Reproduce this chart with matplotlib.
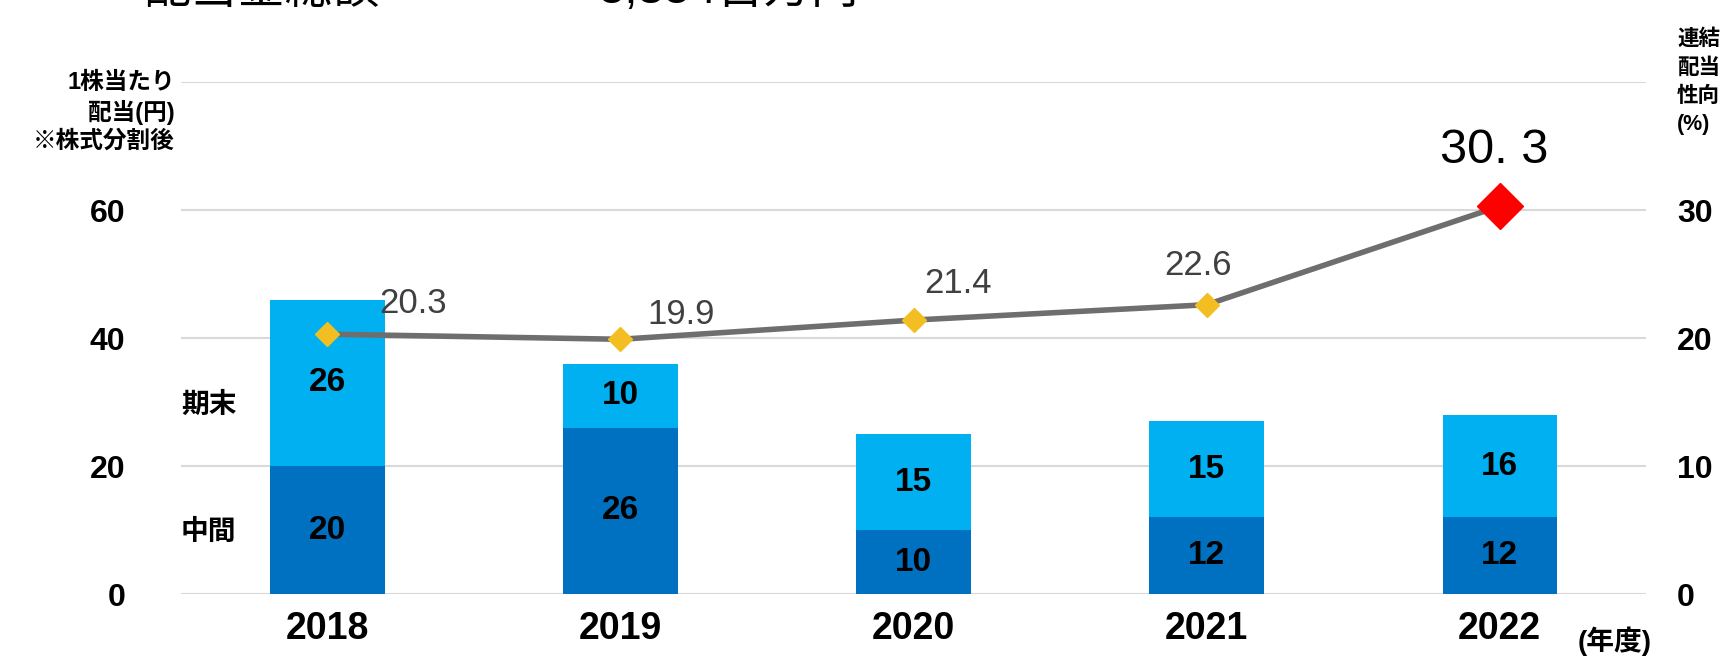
import matplotlib.pyplot as plt
import numpy as np

plt.rcParams['font.family'] = ['Liberation Sans', 'Noto Sans CJK JP', 'DejaVu Sans']

# datos
years = ['2018', '2019', '2020', '2021', '2022']
interim = [20, 26, 10, 12, 12]      # 中間
year_end = [26, 10, 15, 15, 16]     # 期末
payout = [20.3, 19.9, 21.4, 22.6, 30.3]  # 連結配当性向 (%)
payout_labels = ['20.3', '19.9', '21.4', '22.6', '30. 3']

c_dark = '#0070C0'
c_light = '#00B0F0'

fig = plt.figure(figsize=(17.22, 6.56), dpi=100)
ax = fig.add_axes([0.105, 0.0945, 0.851, 0.7805])
x = np.arange(len(years))
w = 0.39

ax.bar(x, interim, w, color=c_dark, zorder=2)
ax.bar(x, year_end, w, bottom=interim, color=c_light, zorder=2)

for i in range(len(years)):
    ax.text(x[i], interim[i] / 2, str(interim[i]), ha='center', va='center',
            fontsize=24, fontweight='bold', color='black', zorder=3)
    ax.text(x[i], interim[i] + year_end[i] / 2, str(year_end[i]), ha='center',
            va='center', fontsize=24, fontweight='bold', color='black', zorder=3)

ax.set_ylim(0, 80)
ax.set_xlim(-0.5, 4.5)
ax.set_yticks([0, 20, 40, 60, 80])
ax.set_yticklabels(['0', '20', '40', '60', ''])
ax.grid(axis='y', color='#D9D9D9', lw=1.5, zorder=0)
ax.set_axisbelow(True)
ax.set_xticks(x)
ax.set_xticklabels(years)
ax.tick_params(axis='both', length=0, labelsize=23)
ax.tick_params(axis='x', pad=12, labelsize=27)
ax.tick_params(axis='y', pad=40)
for lb in ax.get_xticklabels() + ax.get_yticklabels():
    lb.set_fontweight('bold')
for s in ax.spines.values():
    s.set_visible(False)

# eje derecho: payout ratio
ax2 = ax.twinx()
ax2.set_ylim(0, 40)
ax2.set_yticks([0, 10, 20, 30])
ax2.tick_params(axis='y', length=0, labelsize=23, pad=22)
for lb in ax2.get_yticklabels():
    lb.set_fontweight('bold')
for s in ax2.spines.values():
    s.set_visible(False)

ax2.plot(x, payout, color='#6E6E6E', lw=4, zorder=3)
ax2.plot(x[:-1], payout[:-1], 'D', color='#F2BE22', ms=12, zorder=4)
ax2.plot(x[-1], payout[-1], 'D', color='#FF0000', ms=23, zorder=4)

offsets = [(62, 22), (44, 18), (32, 26), (-6, 28), (-4, 40)]
for i in range(len(years)):
    last = i == len(years) - 1
    ax2.annotate(payout_labels[i], (x[i], payout[i]), xytext=offsets[i],
                 textcoords='offset points', ha='center', va='center',
                 fontsize=35 if last else 25,
                 color='black' if last else '#404040', zorder=5)

# etiquetas
fig.text(181 / 1722, 1 - 406 / 656, '期末', fontsize=20, fontweight='bold', va='center')
fig.text(181 / 1722, 1 - 533 / 656, '中間', fontsize=20, fontweight='bold', va='center')
fig.text(175 / 1722, 1 - 112 / 656, '1株当たり\n配当(円)\n※株式分割後', ha='right',
         va='center', fontsize=17, fontweight='bold', linespacing=1.3)
fig.text(1677 / 1722, 1 - 82 / 656, '連結\n配当\n性向\n(%)', ha='left',
         va='center', fontsize=15.5, fontweight='bold', linespacing=1.45)
fig.text(1578 / 1722, 1 - 641 / 656, '(年度)', ha='left', va='center',
         fontsize=20, fontweight='bold')

# titulo cortado arriba
fig.text(143 / 1722, 1 - 13 / 656, '配当金総額', fontsize=34, va='bottom')
fig.text(598 / 1722, 1 - 13 / 656, '5,354百万円', fontsize=34, va='bottom')

fig.savefig('out.png', dpi=100)
